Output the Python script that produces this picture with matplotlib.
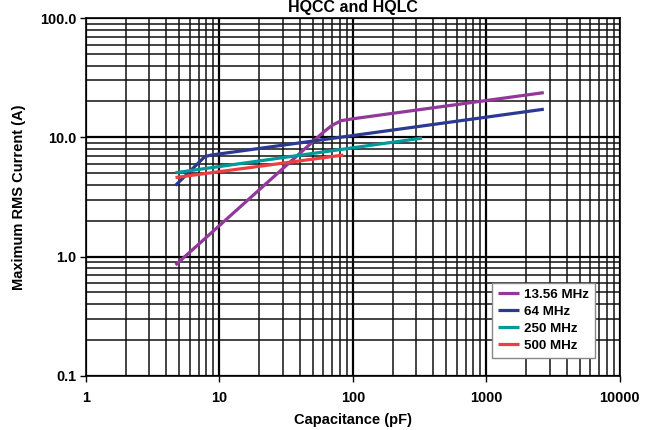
import matplotlib
matplotlib.use('Agg')
import matplotlib.pyplot as plt
from matplotlib.ticker import LogLocator, FixedLocator, NullFormatter

plt.rcParams['font.family'] = ['Liberation Sans', 'DejaVu Sans']
plt.rcParams['font.weight'] = 'bold'

# capacitance (pF) vs max RMS current (A)
cap_1356 = [4.7, 60, 70, 82, 100, 2700]
amp_1356 = [0.85, 11.0, 12.6, 13.8, 14.3, 23.7]

cap_64 = [4.7, 7.8, 8.7, 2700]
amp_64 = [3.95, 6.9, 7.1, 17.2]

cap_250 = [4.7, 330]
amp_250 = [5.05, 9.85]

cap_500 = [4.7, 85]
amp_500 = [4.6, 7.1]

labels = ['13.56 MHz', '64 MHz', '250 MHz', '500 MHz']
colors = ['#93389A', '#2B3990', '#009A9A', '#EF3E42']

x_ticks = [1, 10, 100, 1000, 10000]
y_ticks = [0.1, 1.0, 10.0, 100.0]

fig = plt.figure(figsize=(6.6, 4.3), dpi=100)
ax = fig.add_axes([0.130, 0.126, 0.809, 0.832])

series = [(cap_1356, amp_1356), (cap_64, amp_64), (cap_250, amp_250), (cap_500, amp_500)]
for (c, a), lab, col in zip(series, labels, colors):
    ax.plot(c, a, color=col, lw=2.3, label=lab, solid_capstyle='butt', zorder=3)

ax.set_xscale('log')
ax.set_yscale('log')
ax.set_xlim(1, 10000)
ax.set_ylim(0.1, 100)

ax.xaxis.set_major_locator(FixedLocator(x_ticks))
ax.yaxis.set_major_locator(FixedLocator(y_ticks))
ax.set_xticklabels([str(t) for t in x_ticks])
ax.set_yticklabels(['%.1f' % t for t in y_ticks])
ax.xaxis.set_minor_locator(LogLocator(base=10, subs=range(2, 10)))
ax.yaxis.set_minor_locator(LogLocator(base=10, subs=range(2, 10)))
ax.xaxis.set_minor_formatter(NullFormatter())
ax.yaxis.set_minor_formatter(NullFormatter())

ax.grid(True, which='major', color='black', lw=1.6)
ax.grid(True, which='minor', color='#111111', lw=1.1)
ax.tick_params(which='major', direction='out', length=4, width=1, labelsize=10.4)
ax.tick_params(axis='x', which='major', pad=7)
ax.tick_params(axis='y', which='major', pad=3)
ax.tick_params(which='minor', length=0)
for sp in ax.spines.values():
    sp.set_linewidth(1.2)
    sp.set_color('black')

ax.set_xlabel('Capacitance (pF)', fontsize=10.5, fontweight='bold', labelpad=6)
ax.set_ylabel('Maximum RMS Current (A)', fontsize=10.5, fontweight='bold', labelpad=10)
fig.text(0.535, 0.999, 'HQCC and HQLC', ha='center', va='top', fontsize=11.5, fontweight='bold')

leg = ax.legend(loc='lower right', bbox_to_anchor=(0.953, 0.05), borderaxespad=0,
                fontsize=9.6, frameon=True, fancybox=False, edgecolor='#888888',
                framealpha=1, handlelength=1.6, handletextpad=0.35, borderpad=0.45,
                labelspacing=0.35)
leg.get_frame().set_linewidth(1.0)

fig.savefig('out.png', dpi=100)
